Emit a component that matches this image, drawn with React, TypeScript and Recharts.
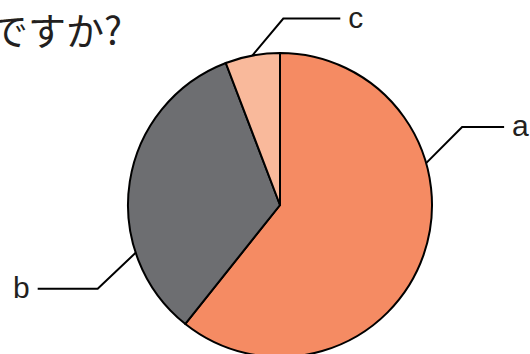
import { PieChart, Pie, Cell } from 'recharts';

// slice names, shares (percent) and fills
const names = ['a', 'b', 'c'];
const shares = [60.7, 33.5, 5.8];
const fills = ['#F58B63', '#6D6E71', '#F9B99B'];

const data = names.map((name, i) => ({ name, value: shares[i] }));

const INK = '#231F20';

// leader line per slice: anchor angle on the rim (deg, clockwise from 12 o'clock),
// 45° elbow offset, horizontal run, and which side the letter sits on
const LEADERS: Record<string, { angle: number; dx: number; dy: number; run: number }> = {
    a: { angle: 74, dx: 36, dy: -36, run: 42 },
    b: { angle: 251.7, dx: -38, dy: 36, run: -60 },
    c: { angle: 349.5, dx: 31, dy: -37, run: 57 },
};

const renderLeader = (props: any) => {
    const { cx, cy, outerRadius, name } = props;
    const cfg = LEADERS[name];
    if (!cfg) return null;
    const rad = (cfg.angle * Math.PI) / 180;
    const x0 = cx + outerRadius * Math.sin(rad);
    const y0 = cy - outerRadius * Math.cos(rad);
    const x1 = x0 + cfg.dx;
    const y1 = y0 + cfg.dy;
    const x2 = x1 + cfg.run;
    const right = cfg.run > 0;
    return (
        <g>
            <polyline
                points={`${x0},${y0} ${x1},${y1} ${x2},${y1}`}
                fill="none"
                stroke="#000"
                strokeWidth={2}
            />
            <text
                x={right ? x2 + 8 : x2 - 8}
                y={y1 + 9}
                textAnchor={right ? 'start' : 'end'}
                fill={INK}
                fontSize={30}
                fontFamily="'Liberation Sans', Arial, sans-serif"
            >
                {name}
            </text>
        </g>
    );
};

export default function App() {
    return (
        <div style={{ position: 'absolute', left: 0, top: 0, width: 530, height: 354, background: '#fff', overflow: 'hidden' }}>
            <svg width={530} height={354} style={{ position: 'absolute', left: 0, top: 0 }}>
                <text x={-10} y={45} fontSize={38} fill={INK} fontFamily="'Noto Sans CJK JP', sans-serif">
                    ですか?
                </text>
            </svg>
            <div style={{ position: 'absolute', left: 0, top: 0 }}>
                <PieChart width={530} height={354} margin={{ top: 0, right: 0, bottom: 0, left: 0 }}>
                    <Pie
                        data={data}
                        dataKey="value"
                        nameKey="name"
                        cx={280}
                        cy={205}
                        outerRadius={152}
                        startAngle={90}
                        endAngle={-270}
                        stroke="#000"
                        strokeWidth={2}
                        label={renderLeader}
                        labelLine={false}
                        isAnimationActive={false}
                    >
                        {data.map((d, i) => (
                            <Cell key={d.name} fill={fills[i]} />
                        ))}
                    </Pie>
                </PieChart>
            </div>
        </div>
    );
}
